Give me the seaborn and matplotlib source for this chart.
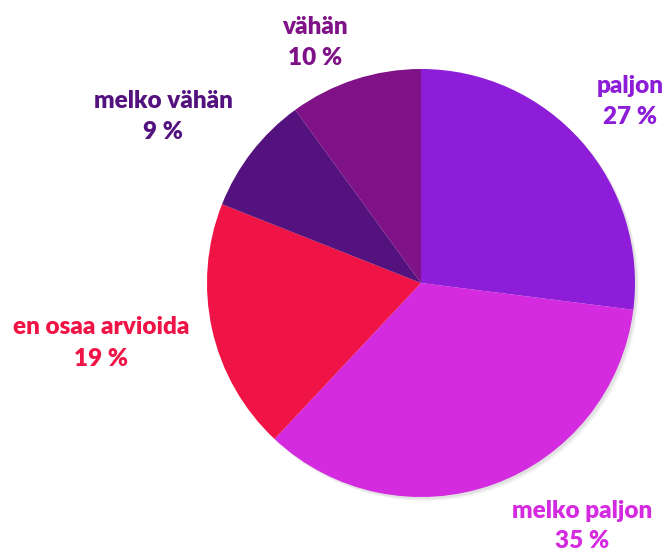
import matplotlib
matplotlib.use("Agg")
import matplotlib.pyplot as plt
import seaborn as sns

# Data
categories = ['paljon', 'melko paljon', 'en osaa arvioida', 'melko vähän', 'vähän']
shares = [27, 35, 19, 9, 10]
colors = ['#8D1DD8', '#D42AE0', '#F01446', '#54127E', '#7E1286']

# label positions in pixel coords (x, y from bottom)
label_pos = [(630, 449.5), (582, 25), (101, 208), (163, 434.5), (315, 508.5)]

sns.set_theme(style="white")
plt.rcParams['font.family'] = ['Lato', 'DejaVu Sans']

fig = plt.figure(figsize=(6.68, 5.51), dpi=100)
ax = fig.add_axes([0, 0, 1, 1])

# soft shadow behind the pie
for off, a in [(4, 0.06), (3, 0.08), (2, 0.1)]:
    ax.add_patch(plt.Circle((421 + off, 268 - off), 214, color='#808080', alpha=a, lw=0))

ax.pie(shares, colors=colors, startangle=90, counterclock=False,
       center=(421, 268), radius=214, frame=True,
       wedgeprops=dict(linewidth=0.3, edgecolor='none'))

for cat, val, col, (x, y) in zip(categories, shares, colors, label_pos):
    ax.text(x, y, f"{cat}\n{val} %", color=col, fontsize=17.5, fontweight='heavy',
            ha='center', va='center', linespacing=1.5)

ax.set_xlim(0, 668)
ax.set_ylim(0, 551)
ax.set_aspect('equal')
ax.axis('off')

fig.savefig('out.png', dpi=100)
